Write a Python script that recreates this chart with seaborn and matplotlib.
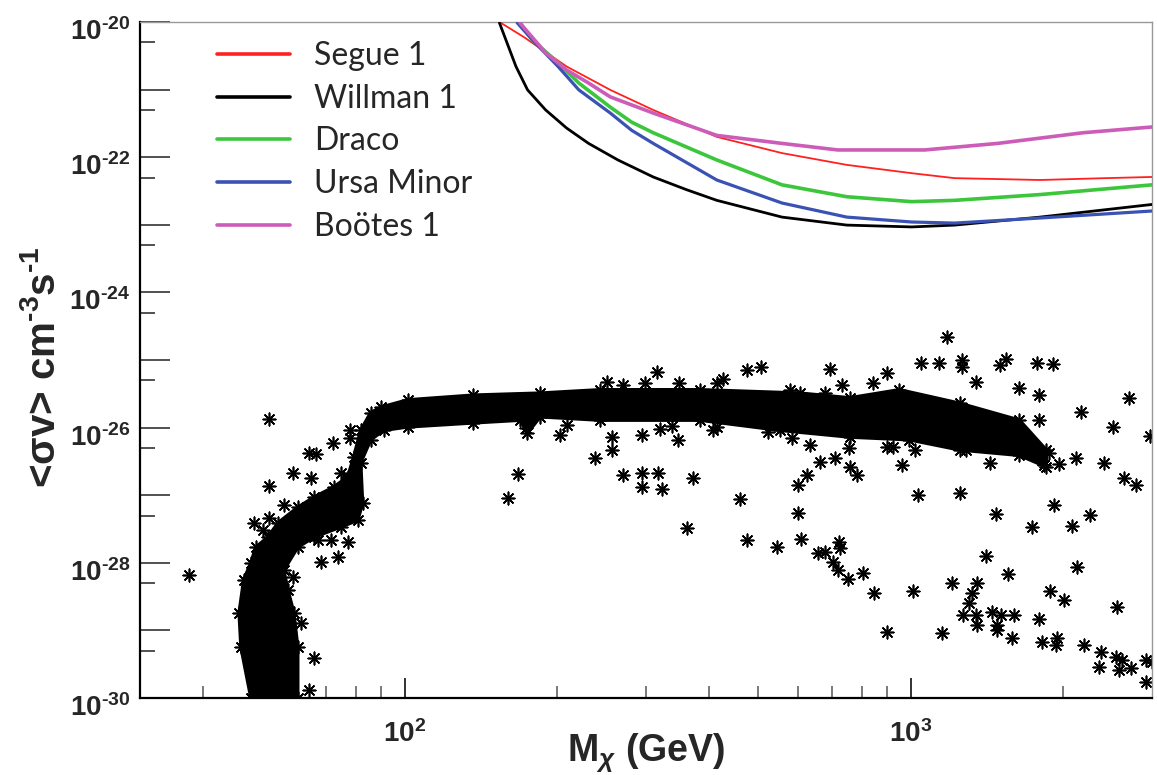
import numpy as np
import matplotlib
matplotlib.use('Agg')
import matplotlib.pyplot as plt
from matplotlib.ticker import FixedLocator, NullFormatter
from matplotlib.transforms import ScaledTranslation
import seaborn as sns

sns.set_theme(style='white')
plt.rcParams['font.family'] = ['Liberation Sans', 'DejaVu Sans']
plt.rcParams['font.weight'] = 'bold'
plt.rcParams['axes.unicode_minus'] = False
plt.rcParams['mathtext.fontset'] = 'custom'
plt.rcParams['mathtext.rm'] = 'Liberation Sans:bold'
plt.rcParams['mathtext.bf'] = 'Liberation Sans:bold'
plt.rcParams['mathtext.it'] = 'Liberation Sans:bold:italic'
plt.rcParams['mathtext.default'] = 'bf'

# Limites das galáxias anãs (massa em GeV, <sigma v> em cm^3/s)
segue_m = [154, 172, 209, 255, 310, 414, 557, 748, 1005, 1222, 1803, 2426, 3000]
segue_sv = [1.0e-20, 6.0e-21, 2.2e-21, 9.9e-22, 5.0e-22, 2.0e-22, 1.15e-22, 7.7e-23,
            5.8e-23, 4.9e-23, 4.6e-23, 4.9e-23, 5.1e-23]

willman_m = [154, 166, 175, 190, 209, 231, 264, 310, 361, 414, 557, 748, 1005, 1222, 1803, 3000]
willman_sv = [9.7e-21, 2.2e-21, 9.9e-22, 5.0e-22, 2.7e-22, 1.6e-22, 9.1e-23, 5.1e-23,
              3.3e-23, 2.3e-23, 1.3e-23, 9.9e-24, 9.3e-24, 9.9e-24, 1.3e-23, 2.0e-23]

draco_m = [169, 179, 201, 221, 255, 281, 310, 414, 557, 748, 1005, 1222, 1803, 3000]
draco_sv = [9.7e-21, 5.4e-21, 2.5e-21, 1.25e-21, 5.5e-22, 3.3e-22, 2.3e-22, 9.1e-23,
            3.9e-23, 2.6e-23, 2.2e-23, 2.3e-23, 2.8e-23, 3.9e-23]

ursa_m = [167, 179, 201, 221, 255, 281, 310, 414, 557, 748, 1005, 1222, 1803, 3000]
ursa_sv = [9.7e-21, 5.4e-21, 2.2e-21, 9.9e-22, 4.5e-22, 2.5e-22, 1.6e-22, 4.6e-23,
           2.1e-23, 1.3e-23, 1.1e-23, 1.06e-23, 1.26e-23, 1.6e-23]

bootes_m = [169, 190, 209, 231, 255, 310, 414, 557, 718, 1066, 1486, 2193, 3000]
bootes_sv = [9.7e-21, 3.5e-21, 1.95e-21, 1.25e-21, 7.8e-22, 4.5e-22, 2.1e-22, 1.6e-22,
             1.28e-22, 1.28e-22, 1.6e-22, 2.3e-22, 2.8e-22]

# Contorno da região densa do scan (massa em GeV, log10 <sigma v>)
band_m = [49.7, 47.5, 47.1, 48.1, 49.7, 50.8, 53.7, 56.2, 61.5, 66.2, 72.4, 77.2, 79.3,
          81.9, 85.7, 89.7, 101.4, 136.8, 185.4, 243.6, 383.7, 603.9, 758.6, 950.6, 1250,
          1641, 1854,
          1854, 1641, 1250, 995, 758.6, 551.6, 383.7, 243.6, 185.4, 174.9, 169.4, 136.8,
          101.4, 90.9, 85.7, 81.9, 82.6, 80.8, 74.8, 66.2, 61.5, 57.7, 58.8, 60.4, 61.5, 61.5]
band_logsv = [-30.0, -29.25, -28.74, -28.25, -28.0, -27.77, -27.62, -27.41, -27.18, -27.03,
              -26.88, -26.73, -26.44, -26.04, -25.78, -25.70, -25.59, -25.52, -25.49, -25.44,
              -25.44, -25.49, -25.56, -25.44, -25.64, -25.89, -26.33,
              -26.58, -26.41, -26.33, -26.18, -26.14, -26.04, -25.89, -25.89, -25.84, -26.08,
              -25.89, -25.93, -25.99, -26.04, -26.18, -26.52, -27.12, -27.37, -27.47, -27.62,
              -27.77, -28.11, -28.40, -28.74, -29.25, -30.0]

# Pontos isolados do scan (log10 massa, log10 <sigma v>)
scan_logm = [1.574, 1.732, 1.732, 1.779, 1.811, 1.824, 1.858, 1.893, 1.893, 1.874, 1.815,
             1.761, 1.732, 1.702, 1.720, 1.834, 1.779, 1.868, 1.828, 1.854, 1.888, 1.795,
             1.821, 1.690, 1.702, 1.710, 1.811, 2.205, 2.225, 2.239, 2.308, 2.321, 2.377,
             2.410, 2.410, 2.400, 2.432, 2.475, 2.499, 2.542, 2.469, 2.505, 2.529, 2.540,
             2.432, 2.469, 2.469, 2.501, 2.509, 2.570, 2.558, 2.609, 2.617, 2.617, 2.629,
             2.677, 2.704, 2.663, 2.677, 2.718, 2.761, 2.736, 2.777, 2.777, 2.783, 2.795,
             2.765, 2.801, 2.821, 2.850, 2.840, 2.830, 2.864, 2.817, 2.830, 2.858, 2.860,
             2.846, 2.856, 2.876, 2.878, 2.880, 2.895, 2.905, 2.927, 2.953, 3.004, 2.984,
             2.953, 2.965, 2.925, 2.953, 3.008, 3.014, 3.071, 3.020, 3.057, 3.101, 3.101,
             3.130, 3.176, 3.189, 3.249, 3.282, 3.215, 3.254, 3.254, 3.337, 3.432, 3.400,
             3.473, 3.274, 3.264, 3.294, 3.327, 3.383, 3.422, 3.446, 3.156, 3.110, 3.097,
             3.168, 3.284, 3.239, 3.320, 3.355, 3.150, 3.193, 3.329, 3.081, 3.132, 3.122,
             3.116, 3.103, 3.130, 3.160, 3.179, 3.205, 3.132, 3.170, 3.170, 3.063, 3.201,
             3.254, 3.276, 3.304, 3.260, 3.290, 3.288, 3.343, 3.377, 3.408, 3.373, 3.406,
             3.418, 3.412, 3.436, 3.465, 3.477, 3.465]
scan_logsv = [-28.18, -25.87, -26.86, -26.67, -26.38, -26.39, -26.23, -26.04, -26.15, -26.67,
              -26.75, -27.14, -27.34, -27.41, -27.51, -27.99, -28.21, -27.91, -27.66, -27.66,
              -27.69, -28.89, -29.41, -29.14, -29.29, -29.78, -29.88, -27.04, -26.69, -26.01,
              -26.11, -25.96, -26.45, -26.14, -26.33, -25.33, -25.37, -25.34, -25.18, -25.34,
              -26.11, -26.02, -25.98, -26.18, -26.70, -26.67, -26.88, -26.67, -26.91, -26.75,
              -27.49, -26.04, -25.99, -25.34, -25.28, -25.15, -25.10, -27.06, -27.66, -26.07,
              -25.44, -27.77, -26.85, -27.26, -27.65, -26.70, -26.15, -26.26, -26.51, -26.45,
              -25.13, -25.49, -25.37, -27.86, -27.84, -27.69, -27.78, -27.99, -28.11, -28.24,
              -26.30, -26.58, -26.70, -28.15, -28.45, -29.02, -28.42, -26.55, -26.29, -26.29,
              -25.34, -25.19, -26.33, -27.00, -24.66, -25.04, -25.04, -25.00, -25.10, -25.33,
              -25.07, -24.99, -25.04, -25.06, -25.41, -25.52, -25.89, -25.77, -25.56, -25.99,
              -26.12, -26.38, -26.55, -26.54, -26.45, -26.52, -26.75, -26.85, -26.52, -26.33,
              -26.97, -27.28, -27.14, -27.47, -27.46, -27.29, -27.90, -28.17, -28.06, -28.30,
              -28.30, -28.45, -28.59, -28.77, -28.77, -28.73, -28.77, -28.77, -28.92, -28.92,
              -28.99, -29.04, -29.11, -28.83, -28.42, -28.55, -29.17, -29.11, -29.22, -29.22,
              -29.32, -28.65, -29.54, -29.39, -29.44, -29.59, -29.56, -29.44, -29.47, -29.76]

fig = plt.figure(figsize=(11.57, 7.75), dpi=100)
ax = fig.add_axes([140 / 1157, 1 - 698 / 775, 1012 / 1157, 676 / 775])
ax.set_xscale('log')
ax.set_yscale('log')

# região densa do scan
band_sv = 10 ** np.array(band_logsv)
ax.fill(band_m, band_sv, color='black', lw=2.5, zorder=2)
asterisco = (8, 2, 0)
sns.scatterplot(x=band_m, y=band_sv, marker=asterisco, s=80, color='black',
                linewidth=1.2, ax=ax, zorder=2)
sns.scatterplot(x=10 ** np.array(scan_logm), y=10 ** np.array(scan_logsv), marker=asterisco,
                s=80, color='black', linewidth=1.2, ax=ax, zorder=2)

# limites
curvas = [
    ('Segue 1', segue_m, segue_sv, '#ff2020', 1.3),
    ('Willman 1', willman_m, willman_sv, 'black', 2.0),
    ('Draco', draco_m, draco_sv, '#3cc63c', 2.6),
    ('Ursa Minor', ursa_m, ursa_sv, '#3a52b4', 2.3),
    ('Boötes 1', bootes_m, bootes_sv, '#cc5cb8', 2.6),
]
for nome, m, sv, cor, lw in curvas:
    sns.lineplot(x=m, y=sv, color=cor, lw=lw, label=nome, ax=ax, zorder=3)

ax.set_xlim(30, 3000)
ax.set_ylim(1e-30, 1e-20)

# eixos estilo ROOT
ax.xaxis.set_major_locator(FixedLocator([100, 1000]))
ax.xaxis.set_minor_locator(FixedLocator([40, 50, 60, 70, 80, 90, 200, 300, 400, 500, 600,
                                         700, 800, 900, 2000]))
ax.set_xticklabels([r'$10^{2}$', r'$10^{3}$'])
ax.xaxis.set_minor_formatter(NullFormatter())

hifen = '\u2010'
decadas = np.arange(-30, -19)
ax.yaxis.set_major_locator(FixedLocator(10.0 ** decadas))
ax.yaxis.set_minor_locator(FixedLocator(5 * 10.0 ** decadas[:-1]))
ax.set_yticklabels([r'$10^{%s%d}$' % (hifen, -d) if d % 2 == 0 else '' for d in decadas])
ax.yaxis.set_minor_formatter(NullFormatter())

ax.tick_params(axis='x', which='major', direction='in', length=14.4, width=1.3,
               color='#222222', labelsize=20, pad=16, bottom=True, top=False)
ax.tick_params(axis='x', which='minor', direction='in', length=8.6, width=1.1,
               color='#555555', bottom=True, top=False)
ax.tick_params(axis='y', which='major', direction='in', length=21.6, width=1.2,
               color='#333333', labelsize=20, pad=7, left=True, right=False)
ax.tick_params(axis='y', which='minor', direction='in', length=10.8, width=1.2,
               color='#333333', left=True, right=False)

# rótulos do eixo y um pouco abaixo do tick
desloca = ScaledTranslation(0, -0.07, fig.dpi_scale_trans)
for rot in ax.get_yticklabels():
    rot.set_transform(rot.get_transform() + desloca)

for lado in ['left', 'bottom']:
    ax.spines[lado].set_color('black')
    ax.spines[lado].set_linewidth(1.6)
for lado in ['top', 'right']:
    ax.spines[lado].set_color('#999999')
    ax.spines[lado].set_linewidth(1.0)

ax.set_xlabel(r'M$_{\mathit{χ}}$ (GeV)', fontsize=27, fontweight='bold')
ax.set_ylabel(r'<σv> cm$^{%s3}$s$^{%s1}$' % (hifen, hifen), fontsize=29, fontweight='bold')
ax.xaxis.set_label_coords(0.500, -0.049)
ax.yaxis.set_label_coords(-0.076, 0.49)

ax.legend(loc='upper left', bbox_to_anchor=(0.076, 0.972), frameon=False,
          prop={'family': 'Lato', 'size': 23, 'weight': 'normal'}, handlelength=2.3,
          handletextpad=0.75, labelspacing=0.4, borderpad=0, borderaxespad=0)
for linha in ax.get_legend().get_lines():
    linha.set_linewidth(2.6)

fig.savefig('out.png', dpi=100)
